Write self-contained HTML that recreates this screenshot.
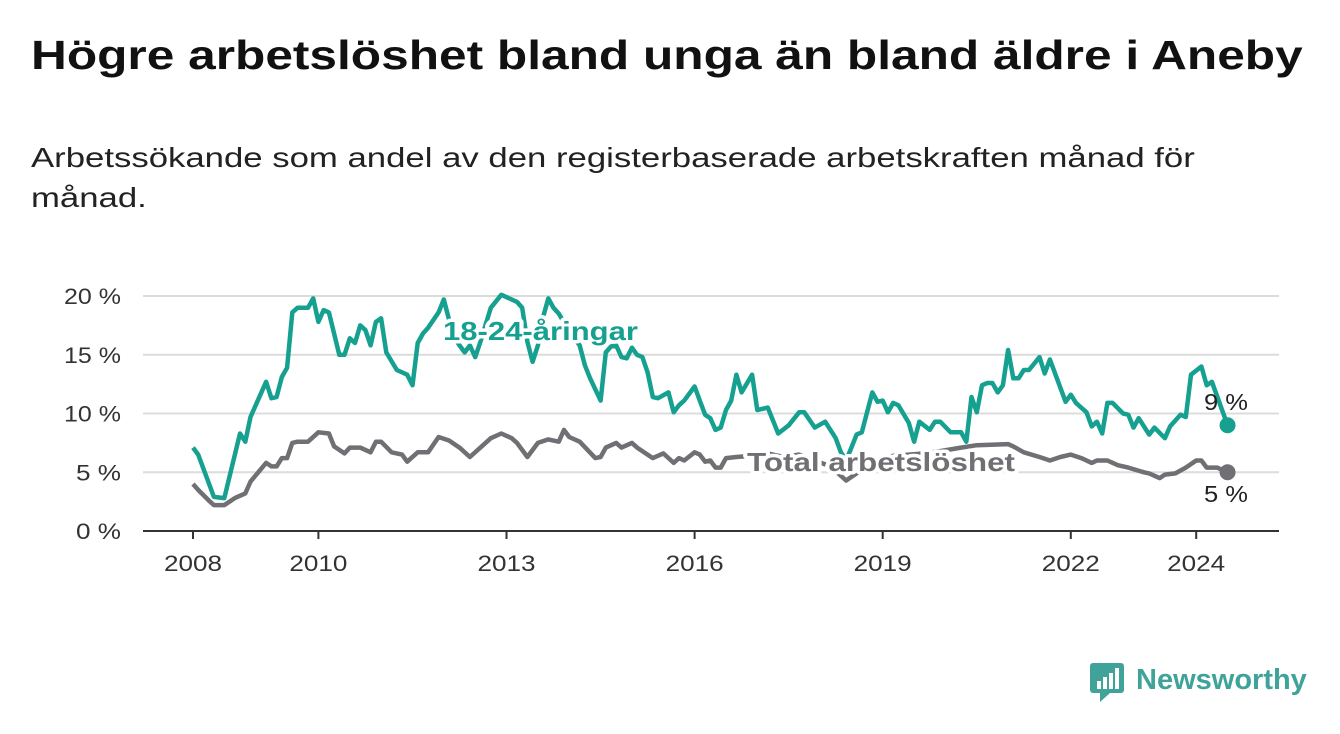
<!DOCTYPE html>
<html><head><meta charset="utf-8">
<style>
body{margin:0;width:1340px;height:734px;background:#fff;overflow:hidden;font-family:"Liberation Sans","DejaVu Sans",sans-serif;}
#title{position:absolute;left:31px;top:32px;font-size:41px;font-weight:bold;color:#111;white-space:nowrap;transform:scaleX(1.21);transform-origin:0 0;}
#sub{position:absolute;left:31px;top:138px;font-size:28px;color:#222;line-height:40px;white-space:nowrap;transform:scaleX(1.24);transform-origin:0 0;}
svg{position:absolute;left:0;top:0;}
#logo{position:absolute;left:1088px;top:660px;}
</style></head><body>
<div id="title">Högre arbetslöshet bland unga än bland äldre i Aneby</div>
<div id="sub">Arbetssökande som andel av den registerbaserade arbetskraften månad för<br>månad.</div>
<svg id="chart" width="1340" height="734"></svg>
<div id="logo">
<svg width="230" height="46" style="position:static">
<rect x="2" y="3" width="34" height="30" rx="3" fill="#3fa39a"/>
<polygon points="12,33 22,33 12,42" fill="#3fa39a"/>
<rect x="9" y="21" width="4" height="8" fill="#fff"/><rect x="15" y="17" width="4" height="12" fill="#fff"/><rect x="21" y="13" width="4" height="16" fill="#fff"/><rect x="27" y="8" width="4" height="21" fill="#fff"/>
<text x="48" y="29" font-size="29" font-weight="bold" fill="#3fa39a" font-family="Liberation Sans, sans-serif">Newsworthy</text>
</svg></div>
<script>
// month offsets since Jan 2008
const youthMonths=[0,1,4,6,9,10,11,14,15,16,17,18,19,20,22,23,24,25,26,28,29,30,31,32,33,34,35,36,37,39,41,42,43,44,45,47,48,49,50,51,52,53,54,55,57,59,61,62,63,64,65,66,67,68,69,70,72,74,75,76,78,79,80,81,82,83,84,85,86,87,88,89,91,92,93,94,96,97,98,99,100,101,102,103,104,105,107,108,110,112,114,116,117,119,121,123,124,125,126,127,128,130,131,132,133,134,135,137,138,139,141,142,143,145,147,148,149,150,151,152,153,154,155,156,157,158,159,160,162,163,164,167,168,169,171,172,173,174,175,176,178,179,180,181,183,184,186,187,189,190,191,193,194,195,198];
const youthValues=[7.1,6.5,2.9,2.8,8.3,7.6,9.7,12.7,11.3,11.4,13.1,13.9,18.6,19.0,19.0,19.8,17.8,18.8,18.6,15.0,15.0,16.4,16.0,17.5,17.1,15.8,17.8,18.1,15.2,13.7,13.3,12.4,16.0,16.8,17.3,18.6,19.7,18.0,16.5,15.8,15.2,15.8,14.8,16.1,19.0,20.1,19.7,19.5,19.0,16.1,14.4,15.8,18.2,19.8,19.0,18.5,17.0,15.8,14.1,13.0,11.1,15.2,15.7,15.8,14.8,14.7,15.6,15.0,14.8,13.5,11.4,11.3,11.8,10.1,10.7,11.1,12.3,11.1,9.9,9.6,8.6,8.8,10.3,11.1,13.3,11.8,13.3,10.3,10.5,8.3,9.0,10.1,10.1,8.8,9.3,7.9,6.7,6.0,7.1,8.2,8.4,11.8,11.0,11.1,10.1,10.9,10.7,9.2,7.6,9.3,8.6,9.3,9.3,8.4,8.4,7.6,11.4,10.1,12.4,12.6,12.6,11.8,12.4,15.4,13.0,13.0,13.7,13.7,14.8,13.4,14.6,11.0,11.6,10.9,10.1,8.9,9.3,8.3,10.9,10.9,10.0,9.9,8.8,9.6,8.2,8.8,7.9,8.9,9.9,9.7,13.3,14.0,12.4,12.7,9.0];
const totalMonths=[0,1,3,4,6,8,10,11,14,15,16,17,18,19,20,22,24,26,27,29,30,32,34,35,36,38,40,41,43,45,47,49,51,53,55,57,59,61,62,64,66,68,70,71,72,74,77,78,79,81,82,84,85,88,90,92,93,94,96,97,98,99,100,101,102,104,107,110,113,116,119,122,125,128,131,134,137,140,143,147,150,156,157,159,162,164,166,168,170,172,173,175,177,179,182,183,185,186,188,190,192,193,194,196,198];
const totalValues=[4.0,3.5,2.6,2.2,2.2,2.8,3.2,4.2,5.8,5.5,5.5,6.2,6.2,7.5,7.6,7.6,8.4,8.3,7.2,6.6,7.1,7.1,6.7,7.6,7.6,6.7,6.5,5.9,6.7,6.7,8.0,7.7,7.1,6.3,7.1,7.9,8.3,7.9,7.5,6.3,7.5,7.8,7.6,8.6,8.0,7.6,6.2,6.3,7.1,7.5,7.1,7.5,7.1,6.2,6.6,5.8,6.2,6.0,6.7,6.5,5.9,6.0,5.4,5.4,6.2,6.3,6.4,6.6,6.3,6.5,6.0,5.5,4.3,5.2,6.0,6.4,6.5,6.6,6.8,7.1,7.3,7.4,7.2,6.7,6.3,6.0,6.3,6.5,6.2,5.8,6.0,6.0,5.6,5.4,5.0,4.9,4.5,4.8,4.9,5.4,6.0,6.0,5.4,5.4,5.0];
const yTicks=[0,5,10,15,20];
const xTickYears=[2008,2010,2013,2016,2019,2022,2024];

const NS='http://www.w3.org/2000/svg';
const svg=document.getElementById('chart');
const X0=193,PXM=62.7/12,Y0=531,PXV=11.75;
const xm=m=>X0+m*PXM, xy=y=>X0+(y-2008)*62.7, yv=v=>Y0-v*PXV;
function mk(tag,attrs){const e=document.createElementNS(NS,tag);for(const k in attrs)e.setAttribute(k,attrs[k]);svg.appendChild(e);return e;}
yTicks.forEach(t=>{
  if(t>0){const g=mk('line',{x1:143,x2:1279,y1:yv(t),y2:yv(t),stroke:'#dcdcdc','stroke-width':2});
  
  }
  const l=mk('text',{x:121,y:yv(t)+8,'text-anchor':'end','font-size':22,fill:'#333',textLength:t>=10?57:45,lengthAdjust:'spacingAndGlyphs'});
  l.textContent=t+' %';
  
  
});
const ax=mk('line',{x1:143,x2:1279,y1:Y0,y2:Y0,stroke:'#333','stroke-width':2});


xTickYears.forEach(y=>{
  const t=mk('line',{x1:xy(y),x2:xy(y),y1:Y0,y2:Y0+8,stroke:'#333','stroke-width':2});
  
  
  const l=mk('text',{x:xy(y),y:571,'text-anchor':'middle','font-size':22,fill:'#333',textLength:58,lengthAdjust:'spacingAndGlyphs'});
  l.textContent=y;
  
  
});
function line(ms,vs,color,name){
  const d=ms.map((m,i)=>(i?'L':'M')+xm(m).toFixed(1)+','+yv(vs[i]).toFixed(1)).join('');
  const p=mk('path',{d:d,fill:'none',stroke:color,'stroke-width':4.5,'stroke-linejoin':'round'});
  
  
  const n=ms.length-1;
  const c=mk('circle',{cx:xm(ms[n]),cy:yv(vs[n]),r:8,fill:color});
  
  
}
line(totalMonths,totalValues,'#707074','total-line');
line(youthMonths,youthValues,'#15a090','youth-line');
function yvLabel(a){return Math.round(a[a.length-1])+' %';}
function label(x,y,txt,color,name,size,bold,anchor,len){
  const a={x:x,y:y,fill:color,'font-size':size,'font-weight':bold?'bold':'normal','text-anchor':anchor||'start',stroke:'#fff','stroke-width':bold?7:0,'paint-order':'stroke','stroke-linejoin':'round'};
  if(len){a.textLength=len;a.lengthAdjust='spacingAndGlyphs';}
  const t=mk('text',a);
  t.textContent=txt;
  
  
}
label(443,340,'18-24-åringar','#15a090','youth-series-label',26,true,'start',195);
label(747,471,'Total arbetslöshet','#707074','total-series-label',26,true,'start',268);
label(1226,410,yvLabel(youthValues),'#222','youth-end-value',23,false,'middle',44);
label(1226,502,yvLabel(totalValues),'#222','total-end-value',23,false,'middle',44);
</script>
</body></html>
